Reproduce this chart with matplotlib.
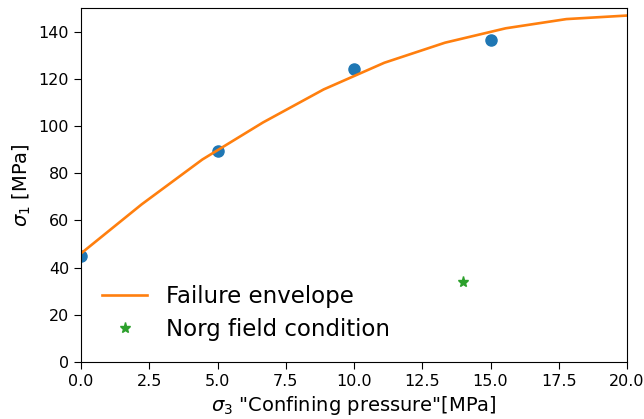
import matplotlib
matplotlib.use("Agg")
import matplotlib.pyplot as plt
import numpy as np

# lab test points
sigma3_test = [0, 5, 10, 15]
sigma1_test = [45, 89.5, 124.3, 136.4]

# failure envelope
sigma3_env = np.linspace(0, 20, 10)
sigma1_env = [46, 66.8, 85.8, 101.5, 115.5, 126.8, 135.3, 141.4, 145.3, 146.8]

# field condition
sigma3_field = [14]
sigma1_field = [34]

fig = plt.figure(figsize=(6.44, 4.19), dpi=100)
ax = fig.add_axes([81 / 644, 1 - 362 / 419, 546 / 644, 354 / 419])

ax.plot(sigma3_test, sigma1_test, 'o', color='#1f77b4', markersize=8)
ax.plot(sigma3_env, sigma1_env, '-', color='#ff7f0e', linewidth=1.9, label='Failure envelope')
ax.plot(sigma3_field, sigma1_field, '*', color='#2ca02c', markersize=8, label='Norg field condition')

ax.set_xlim(0, 20)
ax.set_ylim(0, 150)
ax.set_xticks(np.arange(0, 20.1, 2.5))
ax.set_yticks(np.arange(0, 141, 20))
ax.tick_params(labelsize=11.5, length=5)

ax.set_xlabel(r'$\sigma_3$ "Confining pressure"[MPa]', fontsize=14)
ax.set_ylabel(r'$\sigma_1$ [MPa]', fontsize=14)

ax.legend(loc='lower left', frameon=False, fontsize=16.5, labelspacing=0.45,
          handletextpad=0.8, bbox_to_anchor=(0.0, 0.0))

fig.savefig('out.png', dpi=100)
